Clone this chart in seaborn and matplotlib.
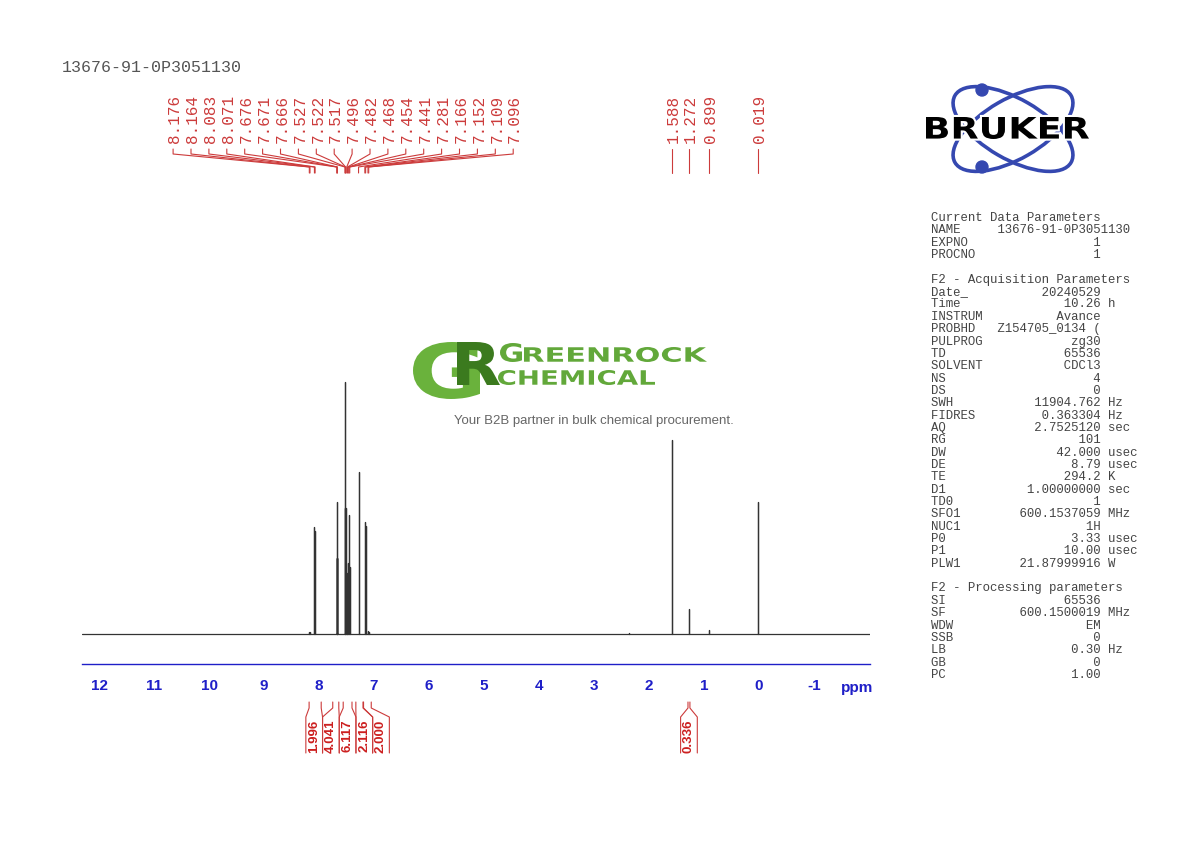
import numpy as np
import pandas as pd
import matplotlib
matplotlib.use("Agg")
import matplotlib.pyplot as plt
import seaborn as sns
from matplotlib.textpath import TextPath
from matplotlib.font_manager import FontProperties
from matplotlib.patches import PathPatch, Ellipse, Circle
from matplotlib import transforms
from matplotlib.ticker import MultipleLocator

W, H = 1190, 842

sample_name = "13676-91-0P3051130"

# peak picking list (ppm) and visible line height (tallest line = 100)
peak_ppm = [8.176, 8.164, 8.083, 8.071, 7.676, 7.671, 7.666, 7.527, 7.522, 7.517,
            7.496, 7.482, 7.468, 7.454, 7.441, 7.281, 7.166, 7.152, 7.109, 7.096,
            1.588, 1.272, 0.899, 0.019]
peak_height = [0.8, 0.6, 42.5, 41.0, 30.0, 52.4, 30.0, 50.0, 100.0, 50.0,
               20.0, 24.0, 28.0, 47.0, 26.5, 64.3, 44.4, 43.0, 1.0, 0.9,
               77.0, 10.0, 1.6, 52.4]
# tiny unlabelled bump in the baseline
bump_ppm = [2.36]
bump_height = [0.4]

# integrals: region start / end (ppm) and value shown under the axis
integral_from = [8.18, 7.75, 7.56, 7.33, 7.19, 1.29]
integral_to = [7.96, 7.64, 7.40, 7.20, 7.05, 1.255]
integral_value = ["1.996", "4.041", "6.117", "2.116", "2.000", "0.336"]

axis_ticks = [12, 11, 10, 9, 8, 7, 6, 5, 4, 3, 2, 1, 0, -1, -2]
axis_labels = ["12", "11", "10", "9", "8", "7", "6", "5", "4", "3", "2", "1", "0", "-1", ""]


def row(key, value, unit=""):
    s = f"{key:<8}{value:>15}"
    return s + (" " + unit if unit else "")


param_lines = [
    "Current Data Parameters",
    "NAME     13676-91-0P3051130",
    row("EXPNO", "1"),
    row("PROCNO", "1"),
    "",
    "F2 - Acquisition Parameters",
    row("Date_", "20240529"),
    row("Time", "10.26", "h"),
    row("INSTRUM", "Avance"),
    row("PROBHD", "Z154705_0134 ("),
    row("PULPROG", "zg30"),
    row("TD", "65536"),
    row("SOLVENT", "CDCl3"),
    row("NS", "4"),
    row("DS", "0"),
    row("SWH", "11904.762", "Hz"),
    row("FIDRES", "0.363304", "Hz"),
    row("AQ", "2.7525120", "sec"),
    row("RG", "101"),
    row("DW", "42.000", "usec"),
    row("DE", "8.79", "usec"),
    row("TE", "294.2", "K"),
    row("D1", "1.00000000", "sec"),
    row("TD0", "1"),
    row("SFO1", "600.1537059", "MHz"),
    row("NUC1", "1H"),
    row("P0", "3.33", "usec"),
    row("P1", "10.00", "usec"),
    row("PLW1", "21.87999916", "W"),
    "",
    "F2 - Processing parameters",
    row("SI", "65536"),
    row("SF", "600.1500019", "MHz"),
    row("WDW", "EM"),
    row("SSB", "0"),
    row("LB", "0.30", "Hz"),
    row("GB", "0"),
    row("PC", "1.00"),
]

BLUE = "#1f1fc8"
RED = "#cc3b3b"
MONO = "Liberation Mono"

sns.set_style("white")
plt.rcParams["font.family"] = ["Liberation Sans", "DejaVu Sans"]

fig = plt.figure(figsize=(W / 100, H / 100), dpi=100)
ax = fig.add_axes([82 / W, 1 - 664 / H, 788 / W, 484 / H])

# spectrum trace: flat baseline with a spike for every line
lines = sorted(zip(peak_ppm + bump_ppm, peak_height + bump_height), reverse=True)
xs, ys = [12.31], [0.0]
for p, h in lines:
    xs += [p, p, p]
    ys += [0.0, h, 0.0]
xs.append(-2.02)
ys.append(0.0)
spec = pd.DataFrame({"ppm": xs, "intensity": ys})
sns.lineplot(data=spec, x="ppm", y="intensity", ax=ax, color="#333333",
             linewidth=0.9, estimator=None, sort=False)

ax.set_xlim(12.31, -2.02)
ax.set_ylim(-11.9, 180)
ax.set_xlabel("")
ax.set_ylabel("")
ax.set_yticks([])
for s in ["top", "left", "right"]:
    ax.spines[s].set_visible(False)
ax.spines["bottom"].set_color(BLUE)
ax.spines["bottom"].set_linewidth(1.0)
ax.set_xticks(axis_ticks, labels=axis_labels, fontweight="bold",
              fontfamily="Liberation Sans")
ax.xaxis.set_minor_locator(MultipleLocator(0.1))
ax.tick_params(axis="x", which="major", direction="out", length=6, width=1.0,
               color=BLUE, labelcolor=BLUE, labelsize=11, pad=5)
ax.tick_params(axis="x", which="minor", direction="out", length=2.2, width=0.8,
               color=BLUE)
ax.patch.set_alpha(0)

# overlay in pixel coordinates for annotations
ov = fig.add_axes([0, 0, 1, 1])
ov.set_xlim(0, W)
ov.set_ylim(H, 0)
ov.axis("off")
ov.patch.set_alpha(0)


def ppm_px(p):
    return ax.transData.transform((p, 0))[0]


def fit_text(s, x0, y0, x1, y1, color, family="DejaVu Sans", weight="bold",
             outline=None, z=5):
    tp = TextPath((0, 0), s, size=100, prop=FontProperties(family=family, weight=weight))
    bb = tp.get_extents()
    tr = (transforms.Affine2D().translate(-bb.x0, -bb.y0)
          .scale((x1 - x0) / bb.width, -(y1 - y0) / bb.height)
          .translate(x0, y1))
    path = tr.transform_path(tp)
    if outline:
        ov.add_patch(PathPatch(path, fc=outline, ec=outline, lw=3, zorder=z))
    ov.add_patch(PathPatch(path, fc=color, lw=0, zorder=z + 0.1))


def spread(want, step, width):
    """Merge neighbouring labels that collide and spread each group evenly."""
    clusters = [[i] for i in range(len(want))]

    def centers(cl):
        if len(cl) == 1:
            return [want[cl[0]]]
        m = want[cl[len(cl) // 2]] if len(cl) % 2 else np.mean([want[i] for i in cl])
        return [m + step * (k - (len(cl) - 1) / 2) for k in range(len(cl))]

    merged = True
    while merged:
        merged = False
        for j in range(len(clusters) - 1):
            if centers(clusters[j])[-1] + width / 2 > centers(clusters[j + 1])[0] - width / 2:
                clusters[j] = clusters[j] + clusters[j + 1]
                del clusters[j + 1]
                merged = True
                break
    out = {}
    for cl in clusters:
        for i, c in zip(cl, centers(cl)):
            out[i] = (c, len(cl))
    return out


# sample name
ov.text(62, 68, sample_name, family=MONO, fontsize=12, color="#555555",
        ha="left", va="center")

# peak labels (peak_ppm is in descending order -> increasing pixel x)
px = [ppm_px(p) for p in peak_ppm]
label_pos = spread(px, 17.9, 16)
for i, p in enumerate(peak_ppm):
    lx, n = label_pos[i]
    ov.text(lx + 1.5, 143, f"{p:.3f}", rotation=90, ha="center", va="bottom",
            family=MONO, fontsize=11.5, color=RED)
    if n == 1:
        ov.plot([lx, lx], [149, 173], color=RED, lw=0.8)
    else:
        ov.plot([lx, lx, px[i], px[i]], [149, 154, 167, 173], color=RED, lw=0.8)

# integrals
IW = 16.7
want = [(ppm_px(a) + ppm_px(b)) / 2 for a, b in zip(integral_from, integral_to)]
box_pos = spread(want, IW, IW)
for i, val in enumerate(integral_value):
    bc = box_pos[i][0]
    xa, xb = ppm_px(integral_from[i]), ppm_px(integral_to[i])
    bl, br = bc - IW / 2, bc + IW / 2
    ov.plot([xa, xa, bl, bl], [702, 708, 717, 753], color=RED, lw=0.8)
    ov.plot([xb, xb, br, br], [702, 708, 717, 753], color=RED, lw=0.8)
    ov.text(bc, 736, val, rotation=90, ha="center", va="center",
            fontweight="bold", fontsize=9.5, color="#cc1f1f")

# axis unit
ov.text(857, 692, "ppm", ha="center", va="baseline", fontweight="bold",
        fontsize=11, color=BLUE)

# acquisition / processing parameters
for n, line in enumerate(param_lines):
    ov.text(931, 218 + 12.35 * n, line, family=MONO, fontsize=8.9, color="#444444",
            ha="left", va="center")

# Bruker logo
LOGO_BLUE = "#3548b0"
for ang in (30, -30):
    ov.add_patch(Ellipse((1013, 129), 134, 60, angle=ang, fill=False,
                         ec=LOGO_BLUE, lw=2.6, zorder=3))
for cy in (90, 167):
    ov.add_patch(Circle((982, cy), 6, color=LOGO_BLUE, zorder=4))
fit_text("BRUKER", 926, 117, 1089, 139, "black", outline="white")

# Greenrock watermark
fit_text("G", 413, 342, 480, 399, "#6ab23c")
fit_text("R", 457, 342, 500, 385, "#3b7a1e", z=6)
fit_text("G", 500, 343, 522, 362, "#62a83a")
fit_text("REENROCK", 524, 347, 707, 362, "#62a83a")
fit_text("CHEMICAL", 498, 370, 655, 385, "#62a83a")
ov.text(594, 421, "Your B2B partner in bulk chemical procurement.", ha="center",
        va="center", fontsize=9.5, color="#666666")

fig.savefig("out.png", dpi=100)
